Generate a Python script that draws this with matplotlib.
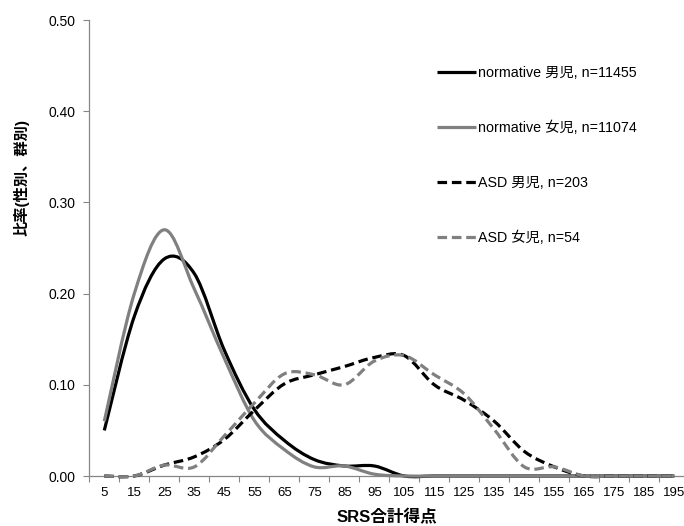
import numpy as np
import matplotlib
matplotlib.use('Agg')
import matplotlib.pyplot as plt
from matplotlib.path import Path
from matplotlib.patches import PathPatch
from matplotlib.lines import Line2D

plt.rcParams['font.family'] = ['Liberation Sans', 'Noto Sans CJK JP']

# SRS total score categories
scores = [5, 15, 25, 35, 45, 55, 65, 75, 85, 95,
          105, 115, 125, 135, 145, 155, 165, 175, 185, 195]
norm_boys = [0.050, 0.175, 0.238, 0.222, 0.138, 0.073, 0.039, 0.018, 0.011, 0.011,
             0, 0, 0, 0, 0, 0, 0, 0, 0, 0]
norm_girls = [0.060, 0.200, 0.270, 0.205, 0.129, 0.061, 0.029, 0.010, 0.011, 0.002,
              0, 0, 0, 0, 0, 0, 0, 0, 0, 0]
asd_boys = [0, 0, 0.012, 0.021, 0.040, 0.072, 0.101, 0.111, 0.120, 0.130,
            0.132, 0.100, 0.083, 0.060, 0.027, 0.010, 0, 0, 0, 0]
asd_girls = [0, 0, 0.012, 0.010, 0.044, 0.080, 0.112, 0.111, 0.100, 0.126,
             0.132, 0.111, 0.090, 0.051, 0.010, 0.010, 0, 0, 0, 0]
labels = ['normative 男児, n=11455', 'normative 女児, n=11074',
          'ASD 男児, n=203', 'ASD 女児, n=54']

GRAY = '#808080'
AXC = '#868686'
DASH = (0, (3, 1.5))


def smooth_path(xs, ys):
    # excel style smoothed line: cubic bezier through each point
    p = np.column_stack([xs, ys]).astype(float)
    n = len(p)
    verts = [p[0]]
    codes = [Path.MOVETO]
    for i in range(n - 1):
        p0 = p[max(i - 1, 0)]
        p3 = p[min(i + 2, n - 1)]
        c1 = p[i] + (p[i + 1] - p0) / 6
        c2 = p[i + 1] - (p3 - p[i]) / 6
        verts += [c1, c2, p[i + 1]]
        codes += [Path.CURVE4] * 3
    return Path(verts, codes)


fig = plt.figure(figsize=(6.84, 5.26), dpi=100)
ax = fig.add_axes([89.3 / 684, 50 / 526, 600 / 684, 456 / 526])

x = np.arange(len(scores))
series = [(norm_boys, 'black', '-'), (norm_girls, GRAY, '-'),
          (asd_boys, 'black', DASH), (asd_girls, GRAY, DASH)]
handles = []
for (vals, col, ls), lab in zip(series, labels):
    patch = PathPatch(smooth_path(x, vals), facecolor='none', edgecolor=col,
                      lw=2.3, linestyle=ls, capstyle='butt', joinstyle='round',
                      clip_on=False, zorder=3)
    ax.add_patch(patch)
    handles.append(Line2D([], [], color=col, lw=2.3, linestyle=ls,
                          solid_capstyle='butt', dash_capstyle='butt'))

ax.set_xlim(-0.5, len(scores) - 0.5)
ax.set_ylim(0, 0.5)
ax.set_yticks(np.arange(0, 0.51, 0.1))
ax.set_yticklabels(['%.2f' % v for v in np.arange(0, 0.51, 0.1)], fontsize=10)

ax.set_xticks(np.arange(-0.5, len(scores), 1))
ax.set_xticklabels([])
ax.set_xticks(x, minor=True)
ax.set_xticklabels([str(s) for s in scores], minor=True, fontsize=9.5)
ax.tick_params(axis='x', which='major', length=4, color=AXC, width=0.8)
ax.tick_params(axis='x', which='minor', length=0, pad=8)
ax.tick_params(axis='y', length=4, color=AXC, width=0.8, pad=6)

for s in ['top', 'right']:
    ax.spines[s].set_visible(False)
for s in ['left', 'bottom']:
    ax.spines[s].set_color(AXC)
    ax.spines[s].set_linewidth(0.9)

fig.text(21 / 684, 1 - 177 / 526, '比率(性別、群別)', rotation=90, fontsize=11,
         fontweight='bold', ha='center', va='center')
fig.text(387 / 684, 1 - 517 / 526, 'SRS合計得点', fontsize=12,
         fontweight='bold', ha='center', va='center')

ax.legend(handles, labels, loc='upper left', frameon=False,
          bbox_to_anchor=(437 / 684, 1 - 66 / 526), bbox_transform=fig.transFigure,
          borderpad=0, borderaxespad=0, handlelength=2.7, handletextpad=0.15,
          labelspacing=2.85, fontsize=10.3)

fig.savefig('out.png', dpi=100)
